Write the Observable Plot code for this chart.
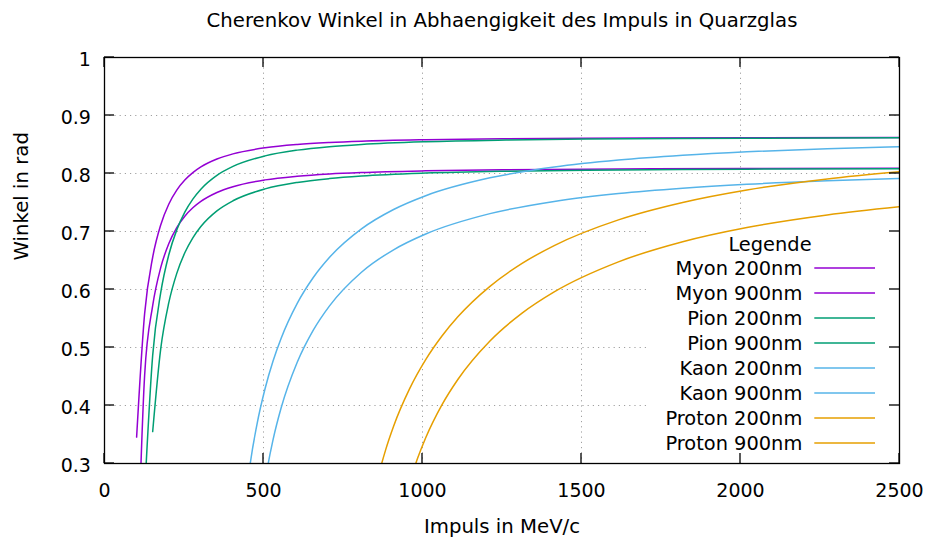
<!DOCTYPE html>
<html>
<head>
<meta charset="utf-8">
<script src="https://cdn.jsdelivr.net/npm/d3@7"></script>
<script src="https://cdn.jsdelivr.net/npm/@observablehq/plot@0.6"></script>
<style>
  html, body { margin: 0; padding: 0; background: #fff; }
  svg { display: block; }
</style>
</head>
<body>
<div id="chart"></div>
<script>
// ---- texts ----
const chartTitle = "Cherenkov Winkel in Abhaengigkeit des Impuls in Quarzglas";
const xLabel = "Impuls in MeV/c";
const yLabel = "Winkel in rad";
const legendTitle = "Legende";

// ---- ticks ----
const xTicks = [0, 500, 1000, 1500, 2000, 2500];
const xTickLabels = ["0", "500", "1000", "1500", "2000", "2500"];
const yTicks = [0.3, 0.4, 0.5, 0.6, 0.7, 0.8, 0.9, 1.0];
const yTickLabels = ["0.3", "0.4", "0.5", "0.6", "0.7", "0.8", "0.9", "1"];

// ---- series names ----
const seriesNames = ["Myon 200nm", "Myon 900nm", "Pion 200nm", "Pion 900nm",
                     "Kaon 200nm", "Kaon 900nm", "Proton 200nm", "Proton 900nm"];

// ---- data: momentum (MeV/c) and angle (rad) ----
const myonP = [101.01, 126.26, 151.52, 176.77, 202.02, 227.27, 252.53, 277.78, 303.03, 353.54,
               404.04, 505.05, 606.06, 707.07, 808.08, 1010.10, 1262.63, 1515.15, 2020.20, 2500];
const myon200 = [0.3455, 0.5589, 0.6556, 0.7113, 0.7470, 0.7713, 0.7886, 0.8015, 0.8113, 0.8249,
                 0.8338, 0.8443, 0.8500, 0.8534, 0.8557, 0.8583, 0.8600, 0.8609, 0.8618, 0.8622];
const myon900 = [0.0630, 0.4527, 0.5721, 0.6377, 0.6789, 0.7067, 0.7264, 0.7409, 0.7519, 0.7673,
                 0.7773, 0.7890, 0.7953, 0.7992, 0.8017, 0.8046, 0.8065, 0.8075, 0.8085, 0.8090];

const pion200P = [126.26, 151.52, 176.77, 202.02, 227.27, 252.53, 277.78, 303.03, 353.54, 404.04,
                  505.05, 606.06, 707.07, 808.08, 1010.10, 1262.63, 1515.15, 2020.20, 2500];
const pion200 = [0.2489, 0.4865, 0.5945, 0.6595, 0.7028, 0.7334, 0.7559, 0.7730, 0.7968, 0.8122,
                 0.8304, 0.8403, 0.8463, 0.8502, 0.8548, 0.8577, 0.8593, 0.8609, 0.8616];
const pion900P = [151.52, 176.77, 202.02, 227.27, 252.53, 277.78, 303.03, 353.54, 404.04,
                  505.05, 606.06, 707.07, 808.08, 1010.10, 1262.63, 1515.15, 2020.20, 2500];
const pion900 = [0.3550, 0.4977, 0.5768, 0.6278, 0.6633, 0.6891, 0.7086, 0.7356, 0.7530,
                 0.7735, 0.7846, 0.7912, 0.7956, 0.8007, 0.8040, 0.8058, 0.8075, 0.8083];

const kaon200P = [429.29, 454.55, 479.80, 505.05, 530.30, 555.56, 606.06, 656.57, 707.07, 808.08,
                  909.09, 1010.10, 1212.12, 1414.14, 1616.16, 1818.18, 2020.20, 2272.73, 2500];
const kaon200 = [0.1351, 0.2841, 0.3684, 0.4294, 0.4771, 0.5160, 0.5761, 0.6207, 0.6551, 0.7045,
                 0.7379, 0.7617, 0.7925, 0.8111, 0.8232, 0.8315, 0.8375, 0.8428, 0.8463];
const kaon900P = [479.80, 505.05, 530.30, 555.56, 606.06, 656.57, 707.07, 808.08, 909.09,
                  1010.10, 1212.12, 1414.14, 1616.16, 1818.18, 2020.20, 2272.73, 2500];
const kaon900 = [0.1449, 0.2676, 0.3415, 0.3960, 0.4745, 0.5299, 0.5714, 0.6298, 0.6685,
                 0.6957, 0.7308, 0.7518, 0.7654, 0.7747, 0.7814, 0.7873, 0.7912];

const proton200P = [808.08, 833.33, 858.59, 883.84, 909.09, 959.60, 1010.10, 1060.61, 1111.11,
                    1212.12, 1313.13, 1414.14, 1616.16, 1818.18, 2020.20, 2272.73, 2500];
const proton200 = [0.0855, 0.2047, 0.2724, 0.3231, 0.3643, 0.4291, 0.4791, 0.5194, 0.5529,
                   0.6055, 0.6450, 0.6757, 0.7200, 0.7500, 0.7715, 0.7906, 0.8031];
const proton900P = [909.09, 934.34, 959.60, 984.85, 1010.10, 1060.61, 1111.11, 1212.12,
                    1313.13, 1414.14, 1616.16, 1818.18, 2020.20, 2272.73, 2500];
const proton900 = [0.1336, 0.2131, 0.2671, 0.3093, 0.3444, 0.4007, 0.4449, 0.5113,
                   0.5593, 0.5959, 0.6477, 0.6824, 0.7069, 0.7286, 0.7427];

// ---- styles ----
const seriesColors = ["#9400d3", "#9400d3", "#009e73", "#009e73",
                      "#56b4e9", "#56b4e9", "#e69f00", "#e69f00"];

// ---- build table ----
const seriesP = [myonP, myonP, pion200P, pion900P, kaon200P, kaon900P, proton200P, proton900P];
const seriesT = [myon200, myon900, pion200, pion900, kaon200, kaon900, proton200, proton900];
const rows = seriesNames.flatMap((name, i) =>
  seriesP[i].map((p, j) => ({name, p, theta: seriesT[i][j]})));

const gridStyle = {stroke: "#a0a0a0", strokeWidth: 1, strokeDasharray: "1.2,4"};

// custom render: white legend background (opaque key)
function legendBackground(index, scales, values, dims) {
  const R = dims.width - dims.marginRight;
  const B = dims.height - dims.marginBottom;
  const g = d3.create("svg:g");
  g.append("rect").attr("x", R - 251).attr("y", dims.marginTop + 172)
    .attr("width", 251).attr("height", B - (dims.marginTop + 172) - 1.5)
    .attr("fill", "#fff");
  return g.node();
}

// custom render: inward ticks on all four sides
function inwardTicks(index, scales, values, dims) {
  const L = dims.marginLeft, R = dims.width - dims.marginRight;
  const T = dims.marginTop, B = dims.height - dims.marginBottom;
  const len = 10;
  const g = d3.create("svg:g").attr("stroke", "#000").attr("stroke-width", 1.3);
  for (const v of xTicks) {
    const x = scales.x(v);
    g.append("line").attr("x1", x).attr("x2", x).attr("y1", B).attr("y2", B - len);
    g.append("line").attr("x1", x).attr("x2", x).attr("y1", T).attr("y2", T + len);
  }
  for (const v of yTicks) {
    const y = scales.y(v);
    g.append("line").attr("y1", y).attr("y2", y).attr("x1", L).attr("x2", L + len);
    g.append("line").attr("y1", y).attr("y2", y).attr("x1", R).attr("x2", R - len);
  }
  return g.node();
}

// custom render: legend entries
function legendEntries(index, scales, values, dims) {
  const R = dims.width - dims.marginRight;
  const T = dims.marginTop;
  const g = d3.create("svg:g").attr("font-size", "19.4px");
  g.append("text").attr("x", R - 129).attr("y", T + 193.5)
    .attr("text-anchor", "middle").attr("fill", "#000").text(legendTitle);
  seriesNames.forEach((name, i) => {
    const y = T + 211 + 25 * i;
    g.append("text").attr("x", R - 96.7).attr("y", y + 6.9)
      .attr("text-anchor", "end").attr("fill", "#000").text(name);
    g.append("line").attr("x1", R - 84.7).attr("x2", R - 24)
      .attr("y1", y).attr("y2", y)
      .attr("stroke", seriesColors[i]).attr("stroke-width", 1.6);
  });
  return g.node();
}

const plot = Plot.plot({
  width: 930,
  height: 539,
  marginLeft: 104,
  marginRight: 31,
  marginTop: 57,
  marginBottom: 76,
  style: {
    fontFamily: "'DejaVu Sans', sans-serif",
    fontSize: "19px",
    background: "#fff",
    color: "#000"
  },
  x: {domain: [0, 2500]},
  y: {domain: [0.3, 1]},
  color: {domain: seriesNames, range: seriesColors},
  marks: [
    Plot.ruleX(xTicks.slice(1, -1), gridStyle),
    Plot.ruleY(yTicks.slice(1, -1), gridStyle),
    legendBackground,
    Plot.line(rows, {
      x: "p", y: "theta", z: "name", stroke: "name",
      strokeWidth: 1.5, curve: "monotone-x", clip: true
    }),
    Plot.frame({stroke: "#000", strokeWidth: 1.3}),
    inwardTicks,
    Plot.axisX(xTicks, {
      tickSize: 0, tickPadding: 20, label: null,
      tickFormat: (d, i) => xTickLabels[xTicks.indexOf(d)], fill: "#000"
    }),
    Plot.axisY(yTicks, {
      tickSize: 0, tickPadding: 13.6, label: null, dy: 2,
      tickFormat: (d, i) => yTickLabels[yTicks.indexOf(d)], fill: "#000"
    }),
    legendEntries,
    Plot.text([chartTitle], {frameAnchor: "top", lineAnchor: "middle", dy: -36.8, fill: "#000", fontSize: 19.7}),
    Plot.text([xLabel], {frameAnchor: "bottom", lineAnchor: "middle", dy: 63.6, fill: "#000", fontSize: 19.7}),
    Plot.text([yLabel], {frameAnchor: "left", lineAnchor: "middle", rotate: -90, dx: -83.3, fill: "#000", fontSize: 19.7})
  ]
});

document.getElementById("chart").appendChild(plot);
</script>
</body>
</html>
